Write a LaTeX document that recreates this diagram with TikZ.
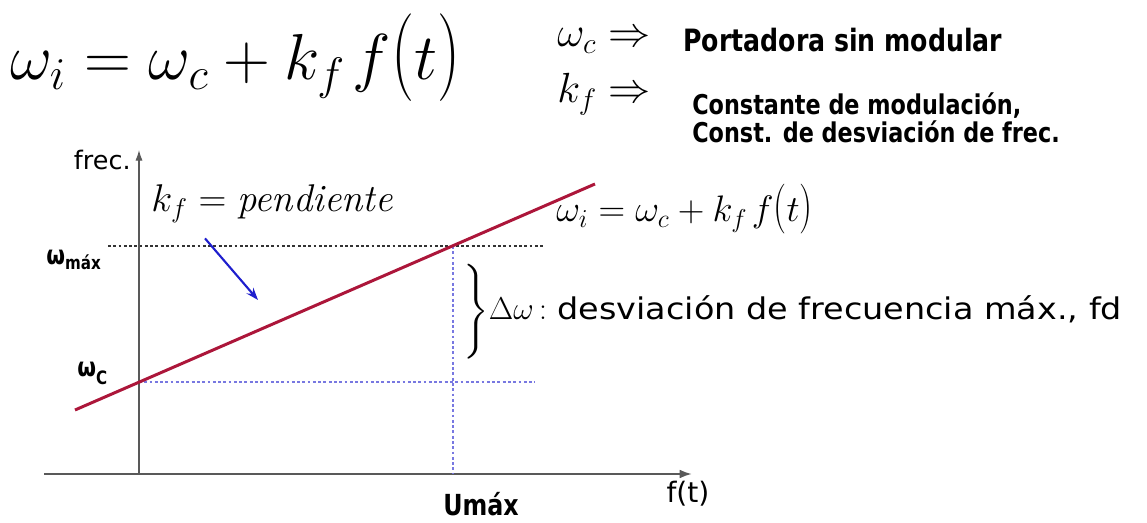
\RequirePackage{fix-cm}
\documentclass[tikz,border=0pt]{standalone}
\usepackage{amsmath,amssymb}
\usepackage{fontspec}
\usepackage{xcolor}
\usetikzlibrary{positioning, calc, arrows.meta}

\newfontfamily\verd{DejaVu Sans}
\newfontfamily\verdw[FakeStretch=1.12]{DejaVu Sans}
\newfontfamily\verdb[FakeStretch=0.82]{DejaVu Sans Bold}
\newcommand{\tallparen}[1]{\scalebox{1}[1.35]{$#1$}}

\definecolor{carrierred}{RGB}{172,22,58}
\definecolor{arrowblue}{RGB}{30,30,205}
\definecolor{guideblue}{RGB}{120,120,225}

\begin{document}
\begin{tikzpicture}[x=0.02cm,y=-0.02cm,
        axisline/.style={draw=black!65},
        guide/.style={dash pattern=on 1.6pt off 1.4pt, line width=0.7pt},
        carrier/.style={carrierred, line width=1.7pt},
        boldtxt/.style={anchor=base west, inner sep=0pt, font=\verdb},
        plaintxt/.style={inner sep=0pt, font=\verd}]
        \useasboundingbox (0,0) rectangle (1147,523);

        % Main formula
        \node[anchor=base west, inner sep=0pt, font=\fontsize{37}{44}\selectfont] (wiform) at (10,80) {$\omega_i=\omega_c+k_{f\,}f\tallparen{(}t\tallparen{)}$};

        % Legend
        \node[anchor=base west, inner sep=0pt, font=\fontsize{24}{28}\selectfont] (wclabel) at (557,47) {$\omega_c\Rightarrow$};
        \node[boldtxt, font=\verdb\fontsize{17.5}{20}\selectfont] (portadora) at (683,52) {Portadora sin modular};
        \node[anchor=base west, inner sep=0pt, font=\fontsize{24}{28}\selectfont] (kflabel) at (557,103) {$k_f\Rightarrow$};
        \node[boldtxt, font=\verdb\fontsize{15.5}{18}\selectfont] (constante) at (692,115) {Constante de modulación,};
        \node[boldtxt, font=\verdb\fontsize{15.5}{18}\selectfont] (desviacion) at (692,143) {Const. de desviación de frec.};

        % Axes
        \coordinate (O) at (139,474);
        \coordinate (xstart) at (44,474);
        \coordinate (xend) at (692,474);
        \coordinate (ytop) at (139,150);
        \draw[axisline, line width=1.2pt, -{Latex[length=7pt,width=5pt]}] (xstart) -- (xend);
        \draw[axisline, line width=0.6pt, -{Latex[length=6pt,width=4pt]}] (O) -- (ytop);
        \node[plaintxt, anchor=base east, font=\verd\fontsize{14.5}{16}\selectfont] (freclabel) at (131,170) {frec.};
        \node[plaintxt, anchor=north, font=\verd\fontsize{16}{18}\selectfont] (ftlabel) at (688,481) {f(t)};
        \node[boldtxt, anchor=base, font=\verdb\fontsize{16.5}{19}\selectfont] (umax) at (481,516) {Umáx};

        % Guide lines
        \coordinate (pmax) at (453,246);
        \coordinate (pc) at (139,382);
        \coordinate (wmaxstart) at (108,246);
        \coordinate (wmaxend) at (545,246);
        \coordinate (wcend) at (535,382);
        \coordinate (umaxfoot) at (453,474);
        \draw[guide, black!80] (wmaxstart) -- (wmaxend);
        \draw[guide, guideblue] (pc) -- (wcend);
        \draw[guide, guideblue] (pmax) -- (umaxfoot);
        \node[boldtxt, font=\verdb\fontsize{15}{17}\selectfont] (wmaxlabel) at (46,265) {ω{\fontsize{10.5}{12}\selectfont\raisebox{-2.5pt}{máx}}};
        \node[boldtxt, font=\verdb\fontsize{15}{17}\selectfont] (wclabel2) at (77,377) {ω{\fontsize{10.5}{12}\selectfont\raisebox{-4pt}{C}}};

        % Instantaneous frequency line
        \coordinate (lo) at (75,410);
        \coordinate (hi) at (595,184);
        \draw[carrier] (lo) -- (hi);
        \node[anchor=base west, inner sep=0pt, font=\fontsize{21}{25}\selectfont] (wiline) at (556,222) {$\omega_i=\omega_c+k_{f\,}f\tallparen{(}t\tallparen{)}$};

        % Slope
        \node[anchor=base west, inner sep=0pt, font=\fontsize{22}{26}\selectfont] (pendiente) at (151,212) {$k_f=\textit{pendiente}$};
        \coordinate (slopetip) at (258,300);
        \draw[arrowblue, line width=1.2pt, -{Stealth[length=7pt,width=5pt]}] (pendiente.south west) ++(54,15) coordinate (slopestart) (slopestart) -- (slopetip);

        % Deviation
        \node[anchor=base west, inner sep=0pt, font=\fontsize{18}{22}\selectfont] (deltaw) at (461,320) {$\left.\rule[-24pt]{0pt}{53pt}\right\}\!\Delta\omega\,{:}\,$\,{\verdw\fontsize{17}{20}\selectfont desviación de frecuencia máx., fd}};
\end{tikzpicture}
\end{document}
